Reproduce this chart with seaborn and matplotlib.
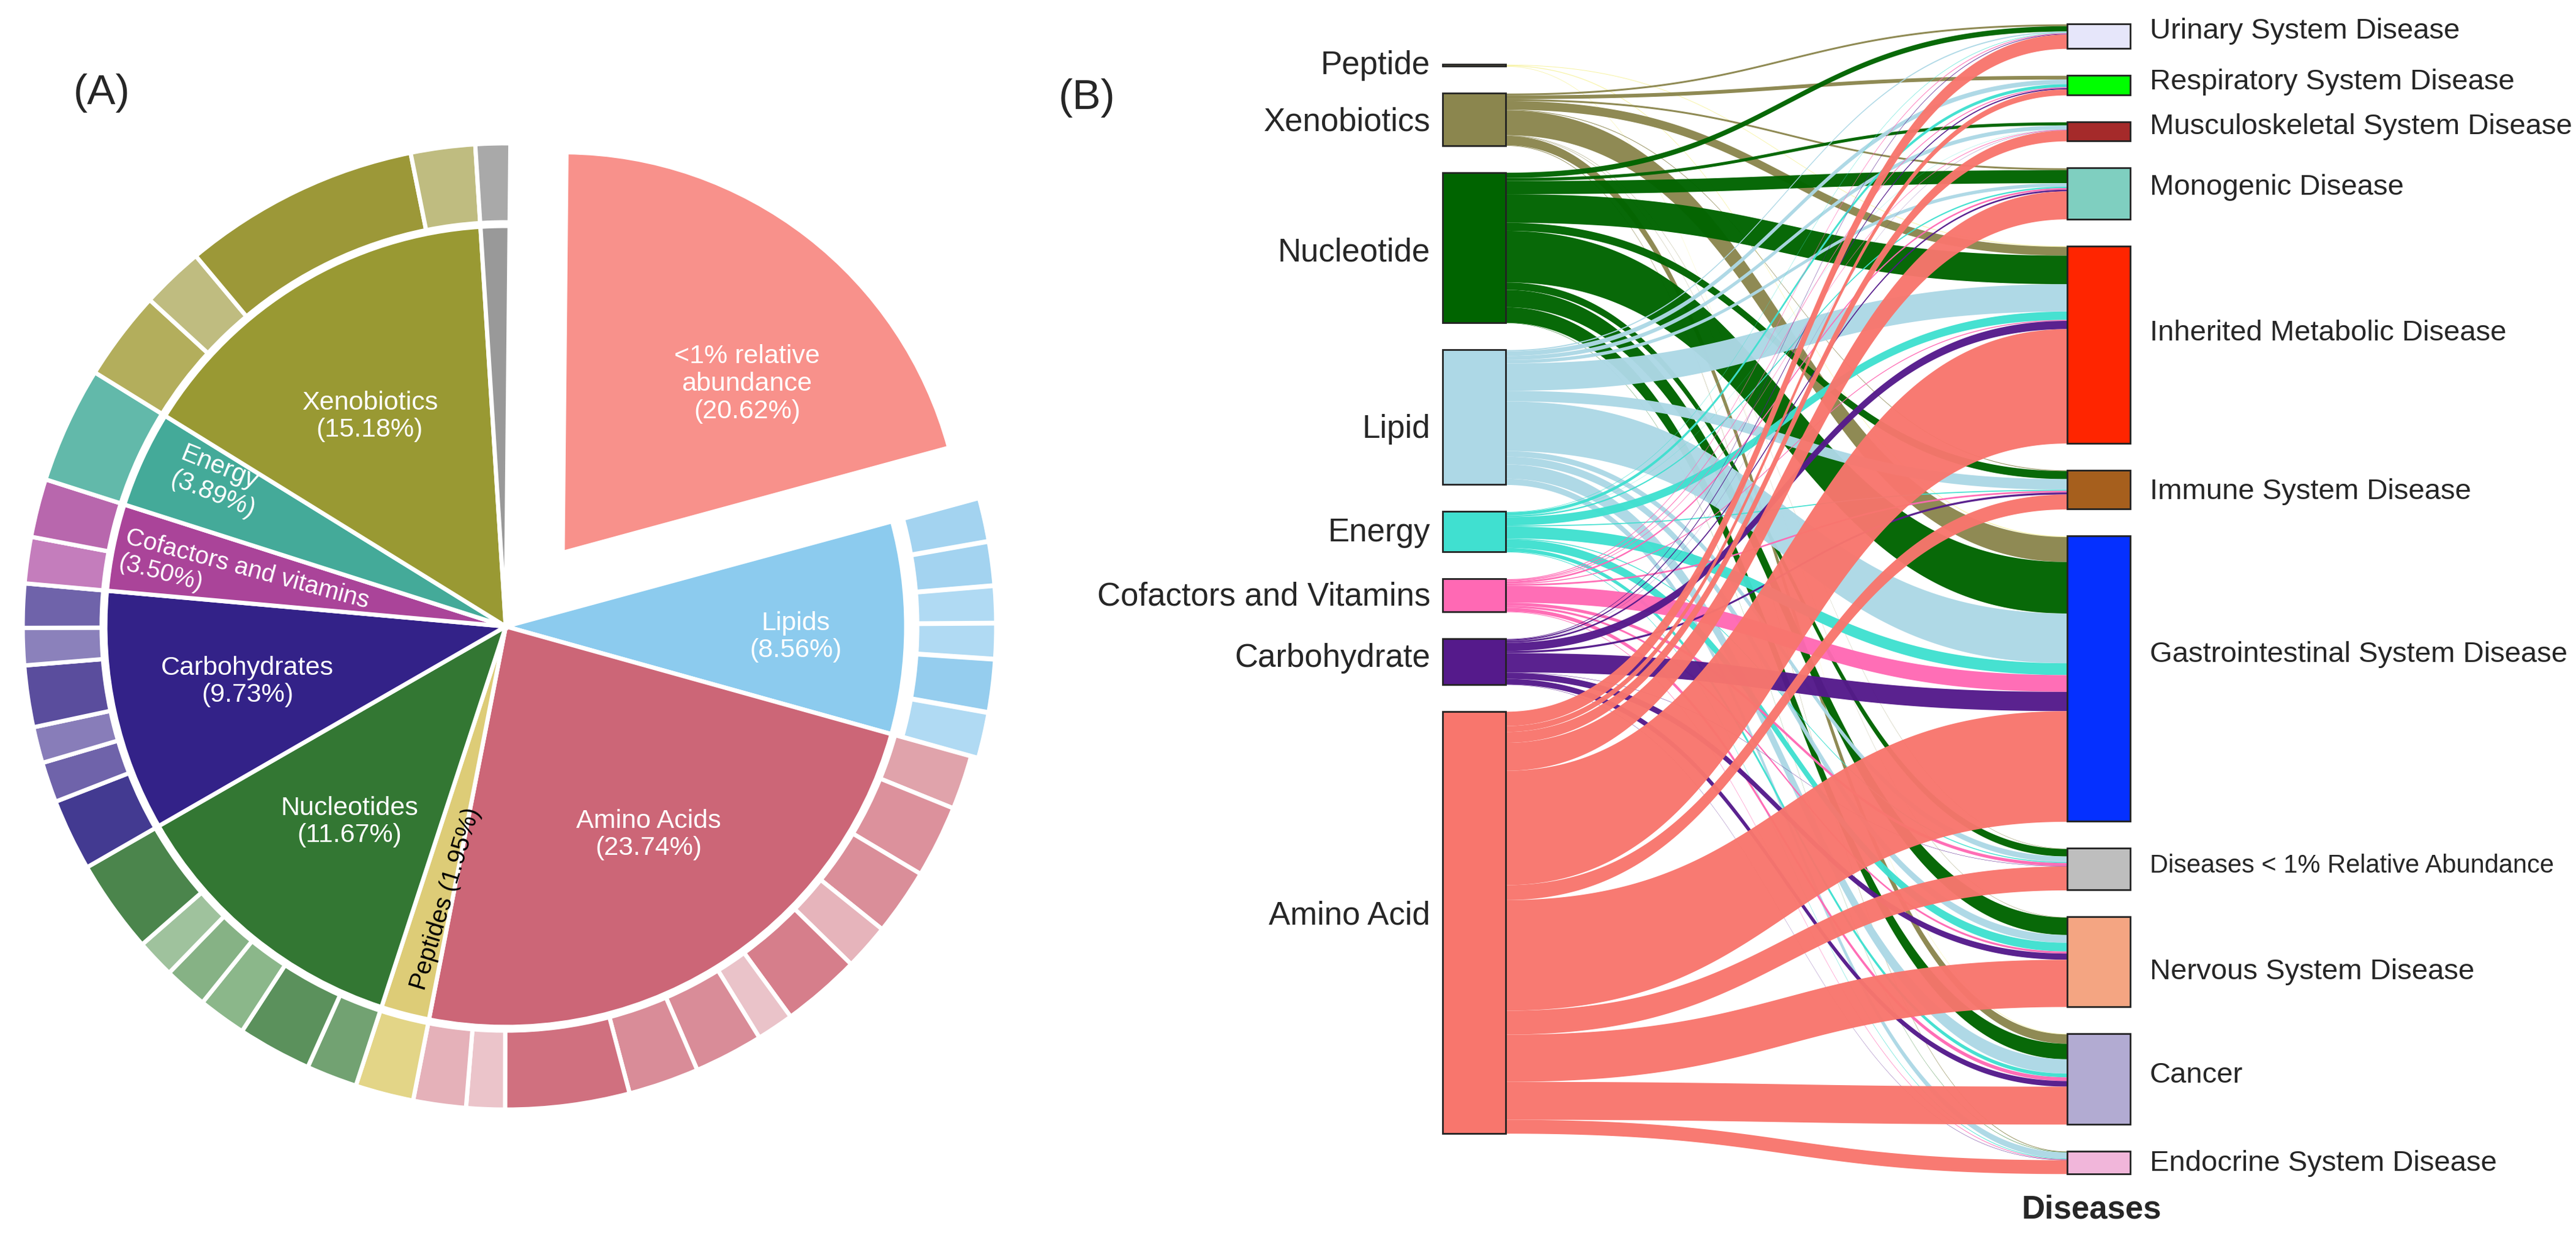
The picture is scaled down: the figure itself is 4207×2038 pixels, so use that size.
import numpy as np
import matplotlib
matplotlib.use("Agg")
import matplotlib.pyplot as plt
import seaborn as sns

sns.set_theme(style="white")
plt.rcParams["font.family"] = ["Liberation Sans", "DejaVu Sans"]

# ======================= DATA : panel (A) =======================
class_names = ["<1% relative\nabundance", "Lipids", "Amino Acids", "Peptides",
               "Nucleotides", "Carbohydrates", "Cofactors and vitamins",
               "Energy", "Xenobiotics", ""]
class_pct = [20.62, 8.56, 23.74, 1.95, 11.67, 9.73, 3.50, 3.89, 15.18, 1.16]
class_colors = ["#f8918b", "#8ccbee", "#cc6677", "#ddcc77", "#337733",
                "#332288", "#aa4499", "#44aa99", "#999933", "#999999"]

# outer ring: sub-classes of every class (clockwise)
ring_lipids = [1.45, 1.45, 1.22, 1.17, 1.75, 1.52]
ring_amino = [1.81, 2.42, 2.22, 1.54, 2.64, 1.24, 2.31, 2.36, 4.15, 1.29, 1.76]
ring_peptides = [1.95]
ring_nucleotides = [1.70, 2.47, 1.61, 1.47, 1.29, 3.13]
ring_carbs = [2.40, 1.35, 1.21, 2.06, 1.24, 1.47]
ring_cofactors = [1.55, 1.95]
ring_energy = [3.89]
ring_xeno = [3.00, 2.10, 7.93, 2.15]
ring_other = [1.16]

col_lipids = ["#a3d3f0", "#a3d3f0", "#b0daf3", "#b0daf3", "#95cdee", "#b0daf3"]
col_amino = ["#e0a3ab", "#dc919c", "#da8e99", "#e6b4bb", "#d67e8b", "#eac3c9",
             "#d98c98", "#d98c98", "#d0707f", "#ebc4ca", "#e5b1b9"]
col_peptides = ["#e3d587"]
col_nucleotides = ["#72a272", "#5b915c", "#8bb78a", "#86b285", "#9fc29d", "#4b854c"]
col_carbs = ["#433a91", "#6f63aa", "#887db9", "#5a4d9d", "#8b81bb", "#6f63aa"]
col_cofactors = ["#c47dbc", "#b867ad"]
col_energy = ["#62b9aa"]
col_xeno = ["#b3ae5c", "#bfbc80", "#9c9838", "#bfbc80"]
col_other = ["#a9a9a9"]

# ======================= DATA : panel (B) =======================
sources = ["Peptide", "Xenobiotics", "Nucleotide", "Lipid", "Energy",
           "Cofactors and Vitamins", "Carbohydrate", "Amino Acid"]
source_colors = ["#f7f3a1", "#8b864e", "#006400", "#add8e6", "#40e0d0",
                 "#ff69b4", "#551a8b", "#f8766d"]
targets = ["Urinary System Disease", "Respiratory System Disease",
           "Musculoskeletal System Disease", "Monogenic Disease",
           "Inherited Metabolic Disease", "Immune System Disease",
           "Gastrointestinal System Disease", "Diseases < 1% Relative Abundance",
           "Nervous System Disease", "Cancer", "Endocrine System Disease"]
target_colors = ["#e6e6fa", "#00ff00", "#a52a2a", "#7fcfc0", "#ff2500",
                 "#a65f1d", "#0530ff", "#bebebe", "#f4a582", "#b2abd2", "#f1b6da"]

flow_peptide = [0, 0, 0, 0, 1.0, 0, 1.2, 0, 0, 0.8, 0]
flow_xeno = [3, 6, 0, 3, 14, 1, 40, 0.5, 0.5, 15, 1]
flow_nucleotide = [8.5, 0, 5, 21, 46, 13, 83, 12, 28, 25, 0.5]
flow_lipid = [2, 7.5, 6.5, 5.5, 44, 17, 80, 9, 12.5, 23, 10]
flow_energy = [0.7, 5, 0.3, 2.3, 13.5, 1.7, 19, 1.5, 14, 6, 1]
flow_cofactors = [1.2, 1.5, 1, 2.7, 1.5, 2.7, 27, 5, 3.3, 6, 1]
flow_carb = [1, 2, 0.3, 2.7, 13.3, 3.3, 31, 0.5, 10, 9, 0.5]
flow_amino = [23, 9.5, 17.5, 45, 184, 24, 178, 38.5, 76, 61, 22.3]

# ======================= FIGURE =======================
W, H = 4207, 2038
fig = plt.figure(figsize=(W / 100, H / 100), dpi=100)
fig.patch.set_facecolor("white")

# ---------------- Panel A ----------------
axA = fig.add_axes([0, 0, 1700 / W, 1])
CX, CY = 826, H - 1023
R_IN, R_OUT, RING_W = 654, 789, 129
START = 89.45
EDGE = dict(edgecolor="white", linewidth=5)

explode_in = [152] + [0] * (len(class_pct) - 1)
axA.pie(class_pct, colors=class_colors, startangle=START, counterclock=False,
        radius=R_IN, center=(CX, CY), explode=explode_in, wedgeprops=EDGE,
        frame=True)

ring_groups = [ring_lipids, ring_amino, ring_peptides, ring_nucleotides,
               ring_carbs, ring_cofactors, ring_energy, ring_xeno, ring_other]
ring_cgroups = [col_lipids, col_amino, col_peptides, col_nucleotides,
                col_carbs, col_cofactors, col_energy, col_xeno, col_other]
ring_vals = [class_pct[0]] + [v for g in ring_groups for v in g]
ring_cols = ["none"] + [c for g in ring_cgroups for c in g]
ring_expl = [0] + [12] * len(ring_lipids) + [0] * (len(ring_vals) - 1 - len(ring_lipids))
w_out, _ = axA.pie(ring_vals, colors=ring_cols, startangle=START,
                   counterclock=False, radius=R_OUT, center=(CX, CY),
                   explode=ring_expl,
                   wedgeprops=dict(width=RING_W, edgecolor="white", linewidth=5),
                   frame=True)
w_out[0].set_visible(False)

axA.set_aspect("auto")
axA.set_xlim(0, 1700)
axA.set_ylim(0, H)
axA.axis("off")

# label layout: offset from pie centre (px), rotation, alignment, colour, size
label_layout = [
    (394, 396, 0, "center", "white", 31),
    (474, -17, 0, "center", "white", 31),
    (233, -340, 0, "center", "white", 31),
    (-98, -445, 73, "center", "black", 29),
    (-255, -319, 0, "center", "white", 31),
    (-422, -90, 0, "center", "white", 31),
    (-626, 126, -15, "left", "white", 29),
    (-470, 236, -22, "center", "white", 30),
    (-222, 343, 0, "center", "white", 31),
]
for name, pct, lay in zip(class_names, class_pct, label_layout):
    dx, dy, rot, ha, col, fs = lay
    if name == "Peptides":
        txt = f"{name} ({pct:.2f}%)"
    else:
        txt = f"{name}\n({pct:.2f}%)"
    axA.text(CX + dx, CY + dy, txt, ha=ha, va="center", rotation=rot,
             rotation_mode="anchor", multialignment="left" if rot < 0 else "center",
             color=col, fontsize=fs, linespacing=1.15)

axA.text(166, H - 152, "(A)", ha="center", va="center", fontsize=50)

# ---------------- Panel B : Sankey ----------------
axB = fig.add_axes([1700 / W, 0, 1 - 1700 / W, 1])
axB.set_xlim(1700, W)
axB.set_ylim(H, 0)
axB.axis("off")

flows = np.array([flow_peptide, flow_xeno, flow_nucleotide, flow_lipid,
                  flow_energy, flow_cofactors, flow_carb, flow_amino], float)

K = 1.015          # px per unit
GAP = 44           # node padding, px
MID_Y = 978
XL0, XL1 = 2356, 2459
XR0, XR1 = 3376, 3479


def stack(tot):
    h = tot * K
    total = h.sum() + GAP * (len(h) - 1)
    top0 = MID_Y - total / 2
    tops = top0 + np.concatenate([[0], np.cumsum(h[:-1] + GAP)])
    return tops, h


s_tops, s_h = stack(flows.sum(axis=1))
t_tops, t_h = stack(flows.sum(axis=0))

tt = np.linspace(0, 1, 160)
xm = (XL1 + XR0) / 2
bx = (1 - tt) ** 3 * XL1 + 3 * (1 - tt) ** 2 * tt * xm + 3 * (1 - tt) * tt ** 2 * xm + tt ** 3 * XR0
wgt = 3 * (1 - tt) * tt ** 2 + tt ** 3

# offsets at sources (ordered by target) and targets (ordered by source)
s_off = s_tops.copy()
t_off = t_tops.copy()
link_geo = {}
for i in range(len(sources)):
    for j in range(len(targets)):
        v = flows[i, j] * K
        if v <= 0:
            continue
        link_geo[(i, j)] = [s_off[i], s_off[i] + v]
        s_off[i] += v
for j in range(len(targets)):
    for i in range(len(sources)):
        v = flows[i, j] * K
        if v <= 0:
            continue
        link_geo[(i, j)] += [t_off[j], t_off[j] + v]
        t_off[j] += v

for i in range(len(sources)):
    for j in range(len(targets)):
        if (i, j) not in link_geo:
            continue
        st, sb, tp, tb = link_geo[(i, j)]
        top = st * (1 - wgt) + tp * wgt
        bot = sb * (1 - wgt) + tb * wgt
        axB.fill_between(bx, top, bot, color=source_colors[i], lw=0,
                         alpha=0.97, zorder=1)

axB.bar(x=[(XL0 + XL1) / 2] * len(sources), height=s_h, bottom=s_tops,
        width=XL1 - XL0, color=source_colors, edgecolor="#222222",
        linewidth=2, zorder=3)
axB.bar(x=[(XR0 + XR1) / 2] * len(targets), height=t_h, bottom=t_tops,
        width=XR1 - XR0, color=target_colors, edgecolor="#222222",
        linewidth=2, zorder=3)

src_label_dy = [0, 5, 8, 20, 2, 2, -5, -11]
for name, top, h, dy in zip(sources, s_tops, s_h, src_label_dy):
    axB.text(XL0 - 20, top + h / 2 + dy, name, ha="right", va="center",
             fontsize=38)

tgt_label_dy = [-8, -5, -8, -10, -19, 3, -39, -5, 16, -6, 2]
for name, top, h, dy in zip(targets, t_tops, t_h, tgt_label_dy):
    fs = 30 if name.startswith("Diseases") else 34
    axB.text(XR1 + 32, top + h / 2 + dy, name, ha="left", va="center",
             fontsize=fs)

axB.text(3416, 1975, "Diseases", ha="center", va="center",
         fontsize=38, fontweight="bold")
axB.text(1775, 160, "(B)", ha="center", va="center", fontsize=50)

fig.savefig("out.png", dpi=100, facecolor="white")
